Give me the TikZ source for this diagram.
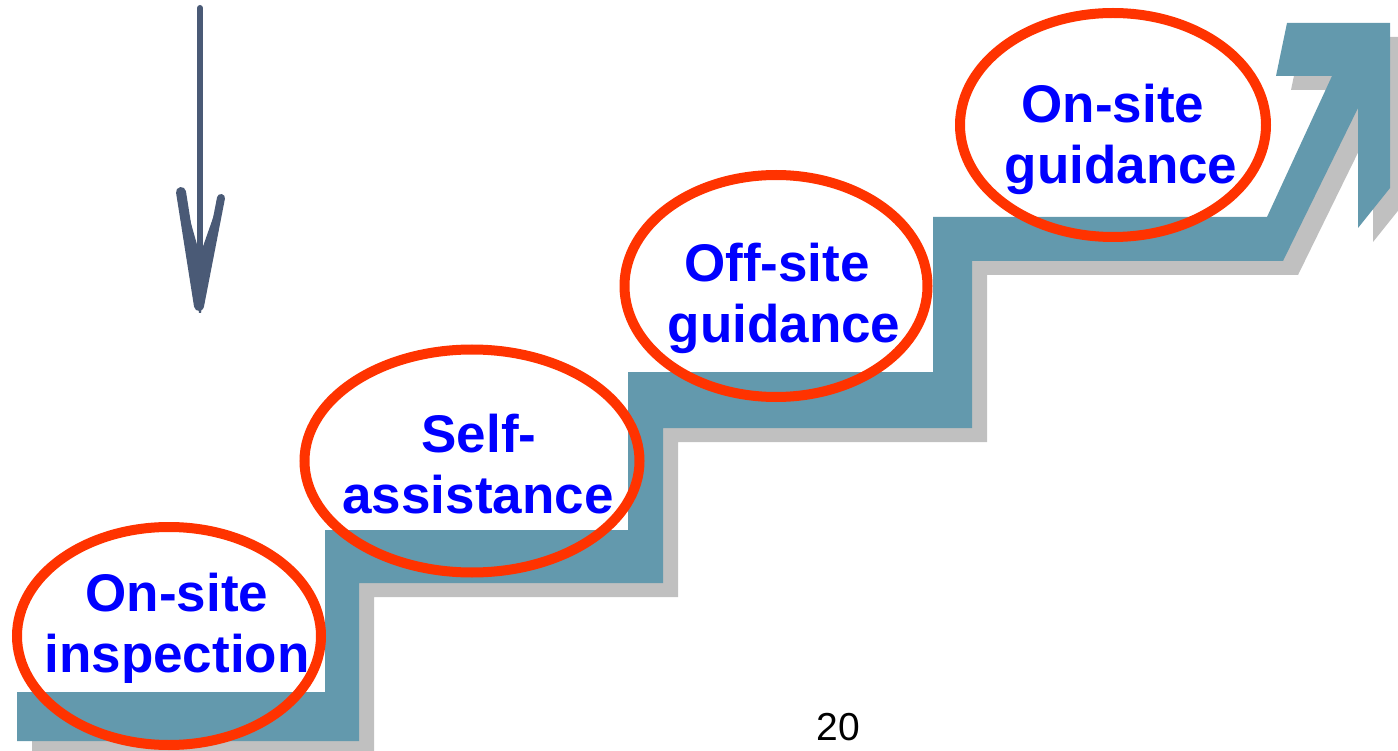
\documentclass[tikz,border=0pt]{standalone}
\usepackage{fontspec}
\setmainfont{Liberation Sans}
\usetikzlibrary{shapes.geometric}
\definecolor{stairblue}{RGB}{99,153,173}
\definecolor{stairshadow}{RGB}{192,192,192}
\definecolor{ringred}{RGB}{255,51,0}
\definecolor{labelblue}{RGB}{0,0,255}
\definecolor{arrowslate}{RGB}{74,90,118}
\newcommand\stairpath{(17,741) -- (17,692) -- (325,692) -- (325,530) -- (628,530) -- (628,372) -- (933,372) -- (933,217) -- (1267,217) -- (1332,76) -- (1276,76) -- (1287,23) -- (1390,23) -- (1390,188) -- (1358,228) -- (1358,108) -- (1283,261) -- (972,261) -- (972,428) -- (663,428) -- (663,583) -- (359,583) -- (359,741) -- cycle}
\tikzset{
  ring/.style={draw=ringred, line width=10pt, ellipse, inner sep=0pt, outer sep=0pt},
  lbl/.style={text=labelblue, font=\fontsize{53}{61}\selectfont\bfseries, inner sep=0pt, anchor=base},
  pagenum/.style={text=black, font=\fontsize{39}{46}\selectfont, inner sep=0pt, anchor=base},
  slate/.style={draw=arrowslate, line cap=round, line join=round}
}
\begin{document}
\begin{tikzpicture}[x=1pt, y=-1pt]
\useasboundingbox (0,0) rectangle (1398,751);
% shadow and staircase
\fill[stairshadow, shift={(15,14)}] \stairpath;
\fill[stairblue] \stairpath;
% down arrow
\draw[slate, line width=6pt] (200,8) -- (200,300);
\draw[slate, line width=10pt] (181,192) -- (199,306);
\draw[slate, line width=8pt] (221,198) -- (200,306);
\fill[arrowslate] (182,192) -- (200,255) -- (220,198) -- (201,313) -- (199,313) -- cycle;
% rings
\node[ring, minimum width=304pt, minimum height=218pt] (r1) at (169,636) {};
\node[ring, minimum width=335pt, minimum height=223pt] (r2) at (472,461) {};
\node[ring, minimum width=303pt, minimum height=222pt] (r3) at (776,286) {};
\node[ring, minimum width=306pt, minimum height=224pt] (r4) at (1113,125) {};
% labels
\node[lbl] (t1a) at (177,611) {On-site};
\node[lbl] (t1b) at (177,672) {inspection};
\node[lbl] (t2a) at (479,452) {Self-};
\node[lbl] (t2b) at (478,513) {assistance};
\node[lbl] (t3a) at (777,282) {Off-site};
\node[lbl] (t3b) at (784,343) {guidance};
\node[lbl] (t4a) at (1113,123) {On-site};
\node[lbl] (t4b) at (1121,184) {guidance};
\node[pagenum] (pg) at (838,740) {20};
\end{tikzpicture}
\end{document}
